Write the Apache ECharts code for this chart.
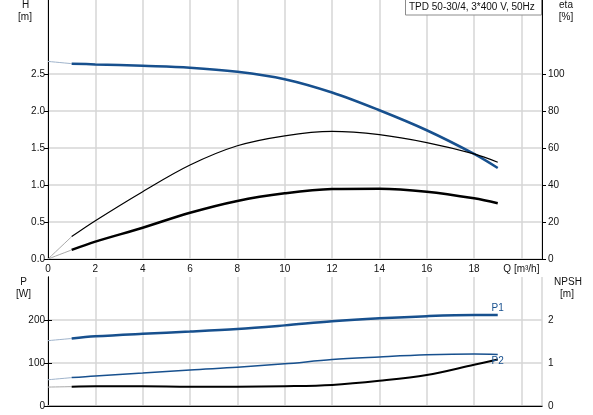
<!DOCTYPE html>
<html>
<head>
<meta charset="utf-8">
<script src="https://cdn.jsdelivr.net/npm/echarts@6/dist/echarts.min.js"></script>
<style>
  html, body { margin: 0; padding: 0; background: #fff; }
  #chart { width: 593px; height: 415px; }
</style>
</head>
<body>
<div id="chart"></div>
<script>
  // flow points where the curves are drawn solid (m³/h)
  const flow = [1, 2, 4, 6, 8, 10, 12, 14, 16, 18, 19];
  const head = [2.64, 2.63, 2.61, 2.585, 2.53, 2.43, 2.25, 2.01, 1.74, 1.42, 1.23];
  const etaPump = [12.1, 20.7, 36.4, 50.8, 61.2, 66.6, 69.0, 67.2, 62.9, 56.8, 52.3];
  const etaTotal = [4.9, 9.4, 16.9, 25.0, 31.4, 35.5, 37.8, 38.0, 36.4, 32.8, 30.1];
  const powerP1 = [157, 162, 168, 173, 179, 187.5, 197, 204, 209, 211.5, 211.5];
  const powerP2 = [66, 70, 76.5, 84, 90, 98, 108, 114, 119, 121, 120];
  const npsh = [0.45, 0.46, 0.46, 0.45, 0.45, 0.46, 0.49, 0.585, 0.72, 0.96, 1.08];

  // faint run-in from zero flow
  const flowStart = [0, 1];
  const headStart = [2.67, 2.64];
  const etaPumpStart = [0, 12.1];
  const etaTotalStart = [0, 4.9];
  const p1Start = [152, 157];
  const p2Start = [61, 66];
  const npshStart = [0.44, 0.45];

  // labelled ticks
  const headTicks = [0, 0.5, 1, 1.5, 2, 2.5];
  const etaTicks = [0, 20, 40, 60, 80, 100];
  const powerTicks = [0, 100, 200];
  const npshTicks = [0, 1, 2];

  const title = 'TPD 50-30/4, 3*400 V, 50Hz';

  const BLUE = '#17508e';
  const FAINT_BLUE = '#9fb3cb';
  const FAINT = '#a8a8a8';
  const GRID = '#d6d6d6';
  const FONT = '"Liberation Sans", Arial, sans-serif';

  const pairs = (xs, ys) => xs.map((x, i) => [x, ys[i]]);
  const last = (a) => a[a.length - 1];

  const chart = echarts.init(document.getElementById('chart'));

  const labelStyle = { color: '#111', fontSize: 10, fontFamily: FONT };

  function yAxis(grid, pos, max, step, ticks, fmt, split) {
    return {
      type: 'value',
      gridIndex: grid,
      position: pos,
      min: 0,
      max: max,
      interval: step,
      axisLine: { show: true, lineStyle: { color: '#000', width: 1 } },
      axisTick: { show: true, length: 4, customValues: ticks, lineStyle: { color: '#000' } },
      axisLabel: Object.assign({}, labelStyle, {
        margin: pos === 'left' ? 3 : 6,
        customValues: ticks,
        formatter: fmt,
      }),
      splitLine: { show: split, lineStyle: { color: GRID, width: 1.5 } },
    };
  }

  function line(name, xAxisIndex, yAxisIndex, data, color, width, extra) {
    return Object.assign({
      name: name,
      type: 'line',
      xAxisIndex: xAxisIndex,
      yAxisIndex: yAxisIndex,
      data: data,
      smooth: 0.35,
      showSymbol: false,
      symbol: 'none',
      lineStyle: { color: color, width: width },
      silent: true,
    }, extra || {});
  }

  const option = {
    animation: false,
    textStyle: { fontFamily: FONT },
    grid: [
      { left: 48, right: 51, top: 0, bottom: 156 },
      { left: 48, right: 51, top: 277, bottom: 9 },
    ],
    xAxis: [
      {
        type: 'value',
        gridIndex: 0,
        min: 0,
        max: 20.87,
        interval: 2,
        axisLine: { lineStyle: { color: '#000', width: 1 } },
        axisTick: { show: false },
        axisLabel: Object.assign({}, labelStyle, {
          margin: 5,
          showMaxLabel: false,
          formatter: (v) => (v === 20 ? 'Q [m³/h]' : v > 20 ? '' : String(v)),
        }),
        splitLine: { show: true, lineStyle: { color: GRID, width: 1.5 } },
      },
      {
        type: 'value',
        gridIndex: 1,
        min: 0,
        max: 20.87,
        interval: 2,
        axisLine: { lineStyle: { color: '#b4b4b4', width: 2 } },
        axisTick: { show: false },
        axisLabel: { show: false },
        splitLine: { show: true, lineStyle: { color: GRID, width: 1.5 } },
      },
      {
        type: 'value',
        gridIndex: 1,
        position: 'top',
        min: 0,
        max: 20.87,
        axisLine: { show: true, lineStyle: { color: '#000', width: 1 } },
        axisTick: { show: false },
        axisLabel: { show: false },
        splitLine: { show: false },
      },
    ],
    yAxis: [
      yAxis(0, 'left', 3.5, 0.5, headTicks, (v) => v.toFixed(1), true),
      yAxis(0, 'right', 140, 20, etaTicks, (v) => String(v), false),
      yAxis(1, 'left', 300, 100, powerTicks, (v) => String(v), true),
      yAxis(1, 'right', 3, 1, npshTicks, (v) => String(v), false),
    ],
    series: [
      line('H start', 0, 0, pairs(flowStart, headStart), FAINT_BLUE, 1),
      line('eta start', 0, 1, pairs(flowStart, etaPumpStart), FAINT, 1),
      line('eta total start', 0, 1, pairs(flowStart, etaTotalStart), FAINT, 1),
      line('H', 0, 0, pairs(flow, head), BLUE, 2.5),
      line('eta', 0, 1, pairs(flow, etaPump), '#000', 1.2),
      line('eta total', 0, 1, pairs(flow, etaTotal), '#000', 2.5),

      line('P1 start', 1, 2, pairs(flowStart, p1Start), FAINT_BLUE, 1),
      line('P2 start', 1, 2, pairs(flowStart, p2Start), FAINT_BLUE, 1),
      line('NPSH start', 1, 3, pairs(flowStart, npshStart), FAINT, 1),
      line('P1', 1, 2, pairs(flow, powerP1), BLUE, 2.5, {
        markPoint: {
          symbol: 'circle',
          symbolSize: 0,
          silent: true,
          data: [{ coord: [last(flow), last(powerP1)] }],
          label: { show: true, position: 'top', distance: 2, formatter: 'P1', color: BLUE, fontSize: 10, fontFamily: FONT },
        },
      }),
      line('P2', 1, 2, pairs(flow, powerP2), BLUE, 1.5, {
        markPoint: {
          symbol: 'circle',
          symbolSize: 0,
          silent: true,
          data: [{ coord: [last(flow), last(powerP2)] }],
          label: { show: true, position: 'bottom', distance: 2, formatter: 'P2', color: BLUE, fontSize: 10, fontFamily: FONT },
        },
      }),
      line('NPSH', 1, 3, pairs(flow, npsh), '#000', 2),
    ],
    graphic: [
      { type: 'rect', shape: { x: 405.5, y: -1, width: 136, height: 16 }, style: { fill: '#fff', stroke: '#8c8c8c', lineWidth: 1 }, z: 100 },
      { type: 'text', x: 409, y: 7.5, style: { text: title, font: '10px ' + FONT, fill: '#111', textVerticalAlign: 'middle' }, z: 101 },

      { type: 'text', x: 25.5, y: 5, style: { text: 'H', font: '10px ' + FONT, fill: '#111', textAlign: 'center', textVerticalAlign: 'middle' } },
      { type: 'text', x: 25, y: 17, style: { text: '[m]', font: '10px ' + FONT, fill: '#111', textAlign: 'center', textVerticalAlign: 'middle' } },
      { type: 'text', x: 566, y: 5, style: { text: 'eta', font: '10px ' + FONT, fill: '#111', textAlign: 'center', textVerticalAlign: 'middle' } },
      { type: 'text', x: 566, y: 17, style: { text: '[%]', font: '10px ' + FONT, fill: '#111', textAlign: 'center', textVerticalAlign: 'middle' } },

      { type: 'text', x: 23.5, y: 282, style: { text: 'P', font: '10px ' + FONT, fill: '#111', textAlign: 'center', textVerticalAlign: 'middle' } },
      { type: 'text', x: 23.5, y: 294.5, style: { text: '[W]', font: '10px ' + FONT, fill: '#111', textAlign: 'center', textVerticalAlign: 'middle' } },
      { type: 'text', x: 568, y: 282, style: { text: 'NPSH', font: '10px ' + FONT, fill: '#111', textAlign: 'center', textVerticalAlign: 'middle' } },
      { type: 'text', x: 567, y: 294.5, style: { text: '[m]', font: '10px ' + FONT, fill: '#111', textAlign: 'center', textVerticalAlign: 'middle' } },
    ],
  };

  chart.setOption(option);
  window.addEventListener('resize', () => chart.resize());
</script>
</body>
</html>
